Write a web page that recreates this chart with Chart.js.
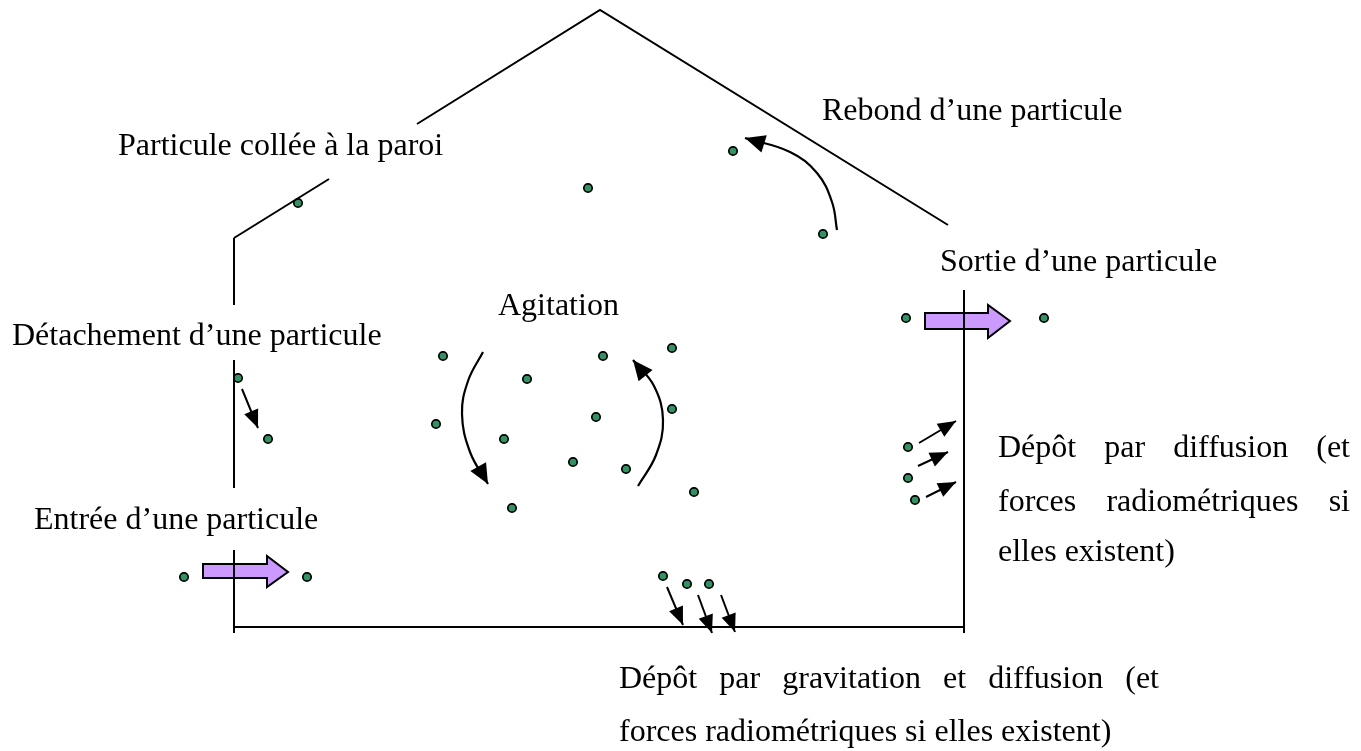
<!DOCTYPE html>
<html>
<head>
<meta charset="utf-8">
<script src="https://cdn.jsdelivr.net/npm/chart.js@4"></script>
<style>
  body { margin: 0; background: #fff; }
  canvas { display: block; }
</style>
</head>
<body>
<canvas id="chart" width="1361" height="751"></canvas>
<script>
// outline of the room (broken where the labels sit)
const walls = [
    [[234, 238], [329, 179]],
    [[417, 124], [600, 10], [948, 225]],
    [[234, 238], [234, 305]],
    [[234, 360], [234, 488]],
    [[234, 550], [234, 633]],
    [[234, 627], [964, 627]],
    [[964, 290], [964, 633]]
];

// particles
const particles = [
    [184, 577], [307, 577], [906, 318], [1044, 318], [298, 203], [588, 188],
    [733, 151], [823, 234], [238, 378], [268, 439],
    [443, 356], [527, 379], [436, 424], [504, 439], [512, 508], [603, 356],
    [672, 348], [596, 417], [672, 409], [573, 462], [626, 469], [694, 492],
    [663, 576], [687, 584], [709, 584],
    [908, 447], [908, 478], [915, 500]
];

// straight arrows (start -> tip)
const arrows = [
    [[242, 389], [258, 428]],
    [[667, 587], [683, 625]],
    [[698, 595], [712, 633]],
    [[721, 595], [735, 632]],
    [[919, 443], [956, 421]],
    [[918, 466], [948, 452]],
    [[926, 497], [956, 482]]
];

// curved arrows
const curves = [
    [[483, 352], [468, 381], [462, 414], [470, 452], [488, 484]],
    [[638, 486], [656, 455], [663, 420], [654, 386], [633, 360]],
    [[837, 230], [832, 202], [817, 173], [790, 152], [745, 138]]
];

// block arrows (entry / exit)
const blockArrows = [
    [[203, 564], [267, 564], [267, 556], [288, 572], [267, 587], [267, 578], [203, 578]],
    [[925, 313], [988, 313], [988, 305], [1010, 321], [988, 338], [988, 329], [925, 329]]
];

// labels
const labelText = [
    "Rebond d\u2019une particule",
    "Particule collée à la paroi",
    "Sortie d\u2019une particule",
    "Agitation",
    "Détachement d\u2019une particule",
    "Dépôt par diffusion (et",
    "forces radiométriques si",
    "elles existent)",
    "Entrée d\u2019une particule",
    "Dépôt par gravitation et diffusion (et",
    "forces radiométriques si elles existent)"
];
const labelX = [822, 118, 940, 498, 12, 998, 998, 998, 34, 619, 619];
const labelY = [120, 155, 271, 315, 345, 457, 511, 561, 529, 688, 741];
const labelJustify = [0, 0, 0, 0, 0, 352, 352, 0, 0, 540, 0];

const pts = arr => arr.map(([x, y]) => ({x, y}));
const FONT = '32px "Liberation Serif", "Times New Roman", serif';

const datasets = [];
walls.forEach(w => datasets.push({data: pts(w), showLine: true, borderColor: "#000", borderWidth: 2, pointRadius: 0, tension: 0}));
arrows.forEach(a => datasets.push({data: pts(a), showLine: true, borderColor: "#000", borderWidth: 2, pointRadius: 0, tension: 0}));
curves.forEach(c => datasets.push({data: pts(c), showLine: true, borderColor: "#000", borderWidth: 2.2, pointRadius: 0, tension: 0.4}));
datasets.push({data: pts(particles), pointRadius: 4.2, pointBackgroundColor: "#2f9464", pointBorderColor: "#000", pointBorderWidth: 1.7});

function head(ctx, sx, sy, tip, prev, len, half) {
    const x1 = sx.getPixelForValue(tip[0]), y1 = sy.getPixelForValue(tip[1]);
    const x0 = sx.getPixelForValue(prev[0]), y0 = sy.getPixelForValue(prev[1]);
    const d = Math.hypot(x1 - x0, y1 - y0), ux = (x1 - x0) / d, uy = (y1 - y0) / d;
    const bx = x1 - ux * len, by = y1 - uy * len;
    ctx.beginPath();
    ctx.moveTo(x1, y1);
    ctx.lineTo(bx - uy * half, by + ux * half);
    ctx.lineTo(bx + uy * half, by - ux * half);
    ctx.closePath();
    ctx.fill();
}

const decor = {
    id: "decor",
    beforeDatasetsDraw(chart) {
        const ctx = chart.ctx, sx = chart.scales.x, sy = chart.scales.y;
        ctx.save();
        blockArrows.forEach(poly => {
            ctx.beginPath();
            poly.forEach(([x, y], i) => {
                const px = sx.getPixelForValue(x), py = sy.getPixelForValue(y);
                i ? ctx.lineTo(px, py) : ctx.moveTo(px, py);
            });
            ctx.closePath();
            ctx.fillStyle = "#cc99ff";
            ctx.fill();
            ctx.lineWidth = 2;
            ctx.lineJoin = "miter";
            ctx.strokeStyle = "#000";
            ctx.stroke();
        });
        ctx.restore();
    },
    afterDatasetsDraw(chart) {
        const ctx = chart.ctx, sx = chart.scales.x, sy = chart.scales.y;
        ctx.save();
        ctx.fillStyle = "#000";
        arrows.forEach(a => head(ctx, sx, sy, a[1], a[0], 18, 7.5));
        curves.forEach(c => head(ctx, sx, sy, c[c.length - 1], c[c.length - 2], 20, 9));

        ctx.font = FONT;
        ctx.textBaseline = "alphabetic";
        ctx.textAlign = "left";
        labelText.forEach((t, i) => {
            const x = sx.getPixelForValue(labelX[i]), y = sy.getPixelForValue(labelY[i]);
            if (!labelJustify[i]) { ctx.fillText(t, x, y); return; }
            const words = t.split(" ");
            const ws = words.map(w => ctx.measureText(w).width);
            const gap = (labelJustify[i] - ws.reduce((s, v) => s + v, 0)) / (words.length - 1);
            let cx = x;
            words.forEach((w, k) => { ctx.fillText(w, cx, y); cx += ws[k] + gap; });
        });
        ctx.restore();
    }
};

new Chart(document.getElementById("chart").getContext("2d"), {
    type: "scatter",
    data: {datasets},
    options: {
        animation: false,
        responsive: false,
        events: [],
        layout: {padding: 0, autoPadding: false},
        plugins: {legend: {display: false}, tooltip: {enabled: false}},
        scales: {
            x: {type: "linear", min: 0, max: 1361, display: false},
            y: {type: "linear", min: 0, max: 751, reverse: true, display: false}
        }
    },
    plugins: [decor]
});
</script>
</body>
</html>
